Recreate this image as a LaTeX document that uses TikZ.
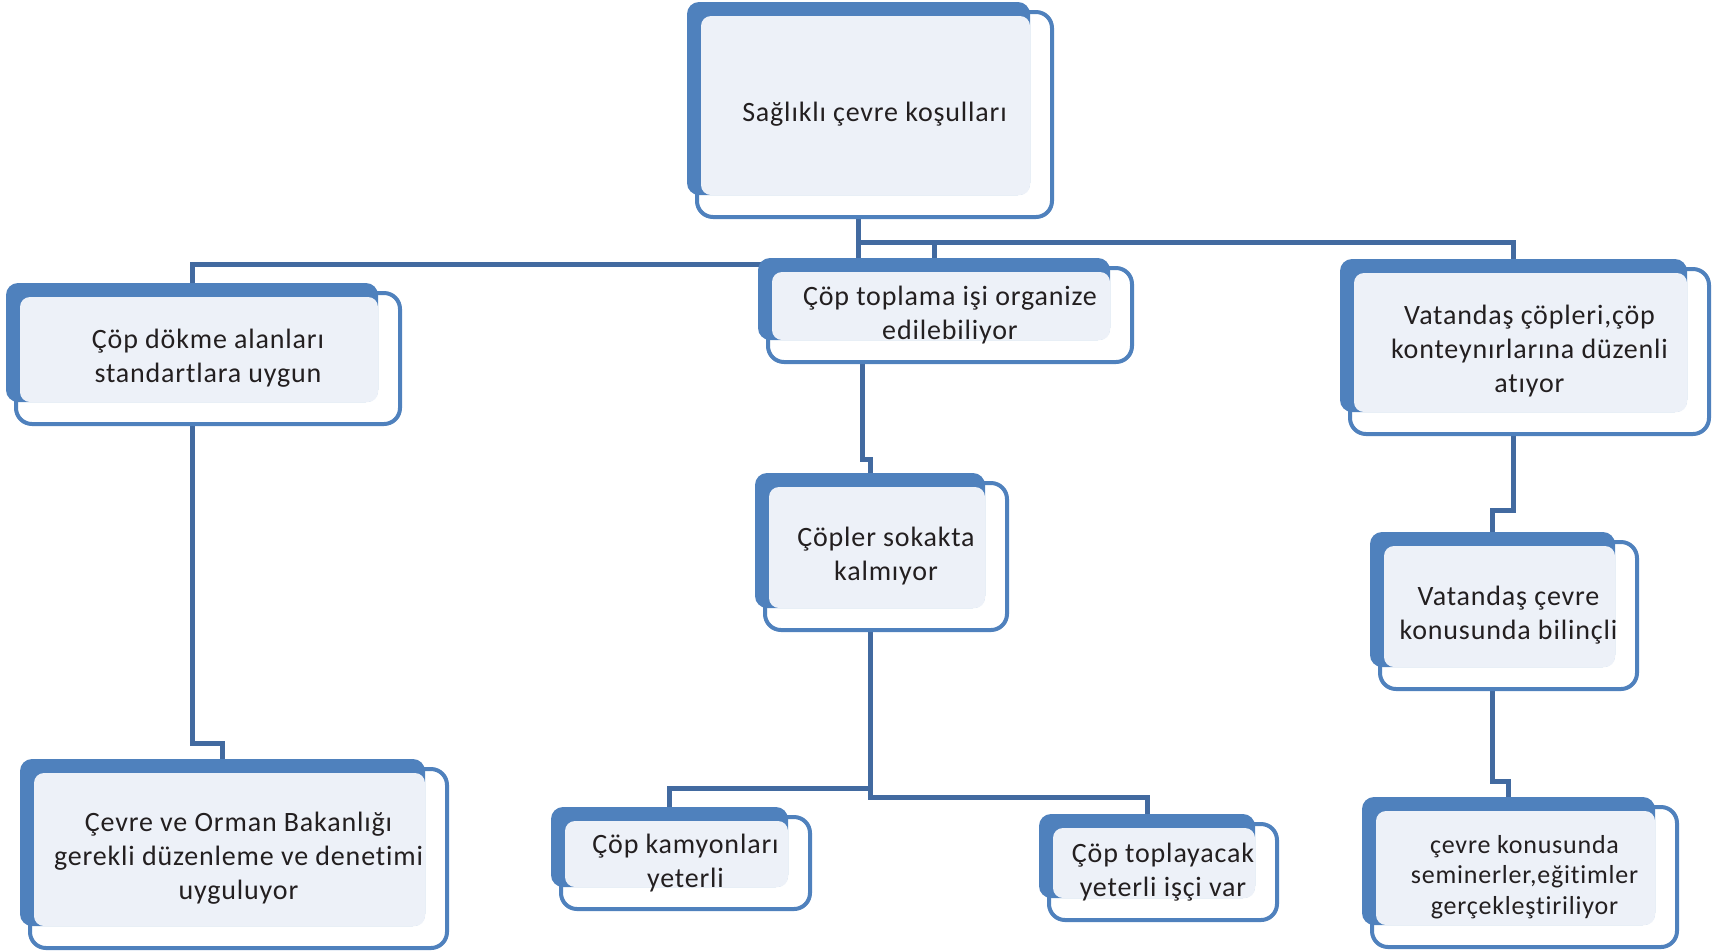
\documentclass[tikz,border=0pt]{standalone}
\usepackage{fontspec}
\setmainfont{Carlito}[LetterSpace=3, Ligatures={NoCommon}]
\usetikzlibrary{positioning, backgrounds}

\definecolor{boxblue}{RGB}{79,129,189}
\definecolor{boxlight}{RGB}{237,241,248}
\definecolor{linkblue}{RGB}{66,106,160}
\definecolor{txt}{RGB}{35,31,32}

\begin{document}
\begin{tikzpicture}[x=0.5pt, y=-0.5pt, font=\fontsize{14}{17}\selectfont]
  \tikzset{
    item/.style={
      rectangle,
      inner sep=0pt,
      outer sep=0pt,
      align=center,
      text=txt},
    frontbox/.style={
      draw=boxblue,
      fill=white,
      line width=2pt,
      rounded corners=8pt},
    backbox/.style={
      fill=boxblue,
      rounded corners=6pt},
    lightbox/.style={
      fill=boxlight,
      rounded corners=5pt},
    link/.style={
      draw=linkblue,
      line width=2.5pt}}

  \useasboundingbox (0,0) rectangle (1721,950);

  \node[item, minimum width=177.5pt, minimum height=102.5pt] (goal) at (874.5,114.5) {Sağlıklı çevre koşulları};

  \node[item, minimum width=192pt, minimum height=65.5pt] (dump) at (208,358.5) {Çöp dökme alanları\\standartlara uygun};
  \node[item, minimum width=182pt, minimum height=47pt] (org) at (950,315) {Çöp toplama işi organize\\edilebiliyor};
  \node[item, minimum width=179.5pt, minimum height=82.5pt] (citizen) at (1529.5,351.5) {Vatandaş çöpleri,çöp\\konteynırlarına düzenli\\atıyor};

  \node[item, minimum width=121pt, minimum height=73.5pt] (street) at (886,556.5) {Çöpler sokakta\\kalmıyor};
  \node[item, minimum width=128.5pt, minimum height=73.5pt] (aware) at (1508.5,615.5) {Vatandaş çevre\\konusunda bilinçli};

  \node[item, minimum width=208.5pt, minimum height=89.5pt] (ministry) at (238.5,858.5) {Çevre ve Orman Bakanlığı\\gerekli düzenleme ve denetimi\\uyguluyor};
  \node[item, minimum width=124.5pt, minimum height=46pt] (trucks) at (685.5,863) {Çöp kamyonları\\yeterli};
  \node[item, minimum width=114pt, minimum height=48pt] (workers) at (1163,872) {Çöp toplayacak\\yeterli işçi var};
  \node[item, minimum width=152.5pt, minimum height=70pt, font=\fontsize{13}{15.4}\selectfont] (seminar) at (1524.5,877) {çevre konusunda\\seminerler,eğitimler\\gerçekleştiriliyor};

  % top and bottom points of the blue part of each box
  \foreach \n in {goal,dump,org,citizen,street,aware,ministry,trucks,workers,seminar} {
    \coordinate (\n-top) at ([shift={(-16,-10)}]\n.north);
    \coordinate (\n-bot) at ([shift={(-16,-22)}]\n.south);
  }

  \begin{pgfonlayer}{background}
    \draw[link] (goal-bot) |- ([shift={(0,-19)}]dump-top) -- (dump-top);
    \draw[link] (goal-bot) |- ([shift={(0,-16)}]org-top) -- (org-top);
    \draw[link] (goal-bot) |- ([shift={(0,-17)}]citizen-top) -- (citizen-top);
    \draw[link] ([shift={(-72,0)}]org-bot) |- ([shift={(0,-14)}]street-top) -- (street-top);
    \draw[link] (street-bot) |- ([shift={(0,-19)}]trucks-top) -- (trucks-top);
    \draw[link] (street-bot) |- ([shift={(0,-17)}]workers-top) -- (workers-top);
    \draw[link] (dump-bot) |- ([shift={(0,-16)}]ministry-top) -- (ministry-top);
    \draw[link] (citizen-bot) |- ([shift={(0,-22)}]aware-top) -- (aware-top);
    \draw[link] (aware-bot) |- ([shift={(0,-16)}]seminar-top) -- (seminar-top);

    % outline box, blue box, light face
    \foreach \n in {goal,dump,org,citizen,street,aware,ministry,trucks,workers,seminar} {
      \draw[frontbox] (\n.north west) rectangle (\n.south east);
      \fill[backbox] ([shift={(-10,-10)}]\n.north west) rectangle ([shift={(-22,-22)}]\n.south east);
      \fill[lightbox] ([shift={(4,4)}]\n.north west) rectangle ([shift={(-22,-22)}]\n.south east);
    }
  \end{pgfonlayer}
\end{tikzpicture}
\end{document}
